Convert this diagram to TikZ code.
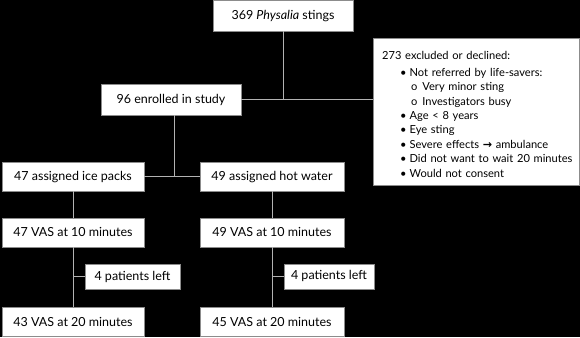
\documentclass[tikz,border=0pt]{standalone}
\usepackage{fontspec}
\setmainfont{Lato}
\newfontfamily\arrowfont{DejaVu Sans}
\usetikzlibrary{positioning}

\begin{document}
\begin{tikzpicture}[
        x=1pt, y=-1pt,
        font=\fontsize{12.5}{14.3}\selectfont,
        box/.style={
            rectangle,
            draw=gray!90,
            fill=white,
            inner sep=0pt,
            minimum width=142pt,
            minimum height=29pt,
            align=center
        },
        smallbox/.style={
            box,
            minimum width=92pt,
            minimum height=25pt
        },
        listbox/.style={
            box,
            minimum width=206pt,
            text width=188pt,
            text height=21pt,
            text depth=126pt,
            align=left,
            font=\fontsize{11.1}{14.4}\selectfont
        },
        link/.style={draw=gray!60, line width=0.8pt}
    ]

    \fill[black] (0,0) rectangle (580,337);

    \node (stings) [box, minimum width=140pt, minimum height=31pt] at (283,15.5) {369 \textit{Physalia} stings};
    \node (enrolled) [box, minimum width=140pt, minimum height=31pt] at (171,99.5) {96 enrolled in study};
    \node (excluded) [listbox, anchor=north west] at (373,38) {%
        \begin{tabular}[t]{@{\hspace{18pt}}l@{\hspace{3pt}}l@{}}
        \multicolumn{2}{@{}l@{}}{273 excluded or declined:}\\[2.5pt]
        \textbullet & Not referred by life-savers:\\
         & \hspace{1.5pt}o\hspace{5pt}Very minor sting\\
         & \hspace{1.5pt}o\hspace{5pt}Investigators busy\\
        \textbullet & Age \textless{} 8 years\\
        \textbullet & Eye sting\\
        \textbullet & Severe effects {\arrowfont\bfseries →} ambulance\\
        \textbullet & Did not want to wait 20 minutes\\
        \textbullet & Would not consent
        \end{tabular}};

    \node (ice) [box] at (73,176.5) {47 assigned ice packs};
    \node (hot) [box, minimum width=144pt] at (272,176.5) {49 assigned hot water};
    \node (iceten) [box] at (73,232) {47 VAS at 10 minutes};
    \node (hotten) [box, minimum width=144pt] at (272,232) {49 VAS at 10 minutes};
    \node (iceleft) [smallbox, minimum width=95pt] at (132.5,276.5) {4 patients left};
    \node (hotleft) [smallbox, minimum width=90pt] at (329,276) {4 patients left};
    \node (icetwenty) [box] at (73,321.5) {43 VAS at 20 minutes};
    \node (hottwenty) [box, minimum width=144pt] at (272,321.5) {45 VAS at 20 minutes};

    \coordinate (split) at (174,176.5);

    \draw [link] (stings) -- (stings |- enrolled);
    \draw [link] (enrolled) -- (excluded.west |- enrolled);
    \draw [link] (enrolled.south -| split) -- (split);
    \draw [link] (ice) -- (hot);
    \draw [link] (ice) -- (iceten);
    \draw [link] (hot) -- (hotten);
    \draw [link] (iceten) -- (icetwenty);
    \draw [link] (hotten) -- (hottwenty);
    \draw [link] (iceleft) -- (iceleft -| iceten);
    \draw [link] (hotleft) -- (hotleft -| hotten);

\end{tikzpicture}
\end{document}
